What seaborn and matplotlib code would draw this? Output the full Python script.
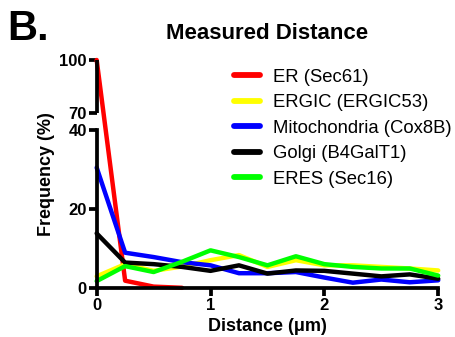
import numpy as np
import pandas as pd
import matplotlib
matplotlib.use("Agg")
import matplotlib.pyplot as plt
import seaborn as sns

sns.set_theme(style="ticks")
plt.rcParams['font.family'] = ['Liberation Sans', 'DejaVu Sans']
plt.rcParams['text.color'] = 'black'
plt.rcParams['axes.labelcolor'] = 'black'

# ---------------------------------------------------------------
# Datos
# ---------------------------------------------------------------
distance = [0, 0.25, 0.5, 0.75, 1.0, 1.25, 1.5, 1.75, 2.0, 2.25, 2.5, 2.75, 3.0]

er_dist = [0, 0.25, 0.5, 0.75]
er = [100, 1.8, 0.3, 0.0]
ergic = [2.9, 6.0, 4.3, 5.4, 7.0, 8.3, 5.3, 7.0, 5.7, 5.7, 5.3, 4.9, 4.4]
mito = [30.5, 8.9, 7.8, 6.5, 5.7, 3.7, 3.7, 4.0, 2.6, 1.3, 2.1, 1.4, 1.9]
golgi = [13.8, 6.4, 6.0, 5.3, 4.3, 5.7, 3.6, 4.4, 4.3, 3.6, 2.9, 3.4, 2.3]
eres = [1.7, 5.5, 4.0, 6.6, 9.5, 7.8, 5.7, 8.0, 6.0, 5.3, 4.9, 4.9, 3.1]

labels = ['ER (Sec61)', 'ERGIC (ERGIC53)', 'Mitochondria (Cox8B)',
          'Golgi (B4GalT1)', 'ERES (Sec16)']
colors = ['#FF0000', '#FFFF00', '#0000FF', '#000000', '#00FF00']

series = [(er_dist, er), (distance, ergic), (distance, mito),
          (distance, golgi), (distance, eres)]


# Eje Y segmentado: 0-40 y 70-100
def fwd(y):
    y = np.asarray(y, dtype=float)
    return np.where(y <= 40, y,
                    np.where(y <= 70, 40 + (y - 40) * (4.4 / 30),
                             44.4 + (y - 70) * (13.4 / 30)))


def inv(y):
    y = np.asarray(y, dtype=float)
    return np.where(y <= 40, y,
                    np.where(y <= 44.4, 40 + (y - 40) * (30 / 4.4),
                             70 + (y - 44.4) * (30 / 13.4)))


fig = plt.figure(figsize=(4.56, 3.37), dpi=100)
ax = fig.add_axes([0.212, 0.146, 0.749, 0.676])

for (xs, ys), lab, col in zip(series, labels, colors):
    df = pd.DataFrame({'Distance': xs, 'Frequency': ys})
    sns.lineplot(data=df, x='Distance', y='Frequency', color=col, label=lab,
                 linewidth=3.2, ax=ax, clip_on=False)

ax.set_yscale('function', functions=(fwd, inv))
ax.set_ylim(0, 100)
ax.set_xlim(0, 3)
ax.set_yticks([0, 20, 40, 70, 100])
ax.set_xticks([0, 1, 2, 3])
ax.set_yticklabels(['0', '20', '40', '70', '100'])

lw_axis = 2.7
for side in ['top', 'right']:
    ax.spines[side].set_visible(False)
for side in ['left', 'bottom']:
    ax.spines[side].set_linewidth(lw_axis)
    ax.spines[side].set_color('black')
ax.spines['left'].set_bounds(0, 40)
# segmento superior del eje Y
ax.plot([0, 0], [70, 100], transform=ax.get_yaxis_transform(),
        color='black', linewidth=lw_axis, clip_on=False, solid_capstyle='butt')

ax.tick_params(axis='both', width=lw_axis, length=5.5, labelsize=12, pad=1.5,
               color='black', labelcolor='black')
for t in ax.get_xticklabels() + ax.get_yticklabels():
    t.set_fontweight('bold')

ax.set_xlabel('Distance (\u03bcm)', fontsize=13, fontweight='bold')
ax.set_ylabel('Frequency (%)', fontsize=13, fontweight='bold')
ax.xaxis.set_label_coords(0.5, -0.133)
ax.yaxis.set_label_coords(-0.122, 0.5)

leg = ax.legend(loc='upper left', bbox_to_anchor=(0.402, 0.961), frameon=False,
                fontsize=13.3, handlelength=1.4, handletextpad=0.69,
                labelspacing=0.46, borderaxespad=0, borderpad=0)
for h in leg.get_lines():
    h.set_linewidth(4.2)

fig.text(0.586, 0.883, 'Measured Distance', ha='center', va='baseline',
         fontsize=16, fontweight='bold')
fig.text(0.015, 0.881, 'B.', ha='left', va='baseline',
         fontsize=30, fontweight='bold')

fig.savefig('out.png', dpi=100, facecolor='white')
